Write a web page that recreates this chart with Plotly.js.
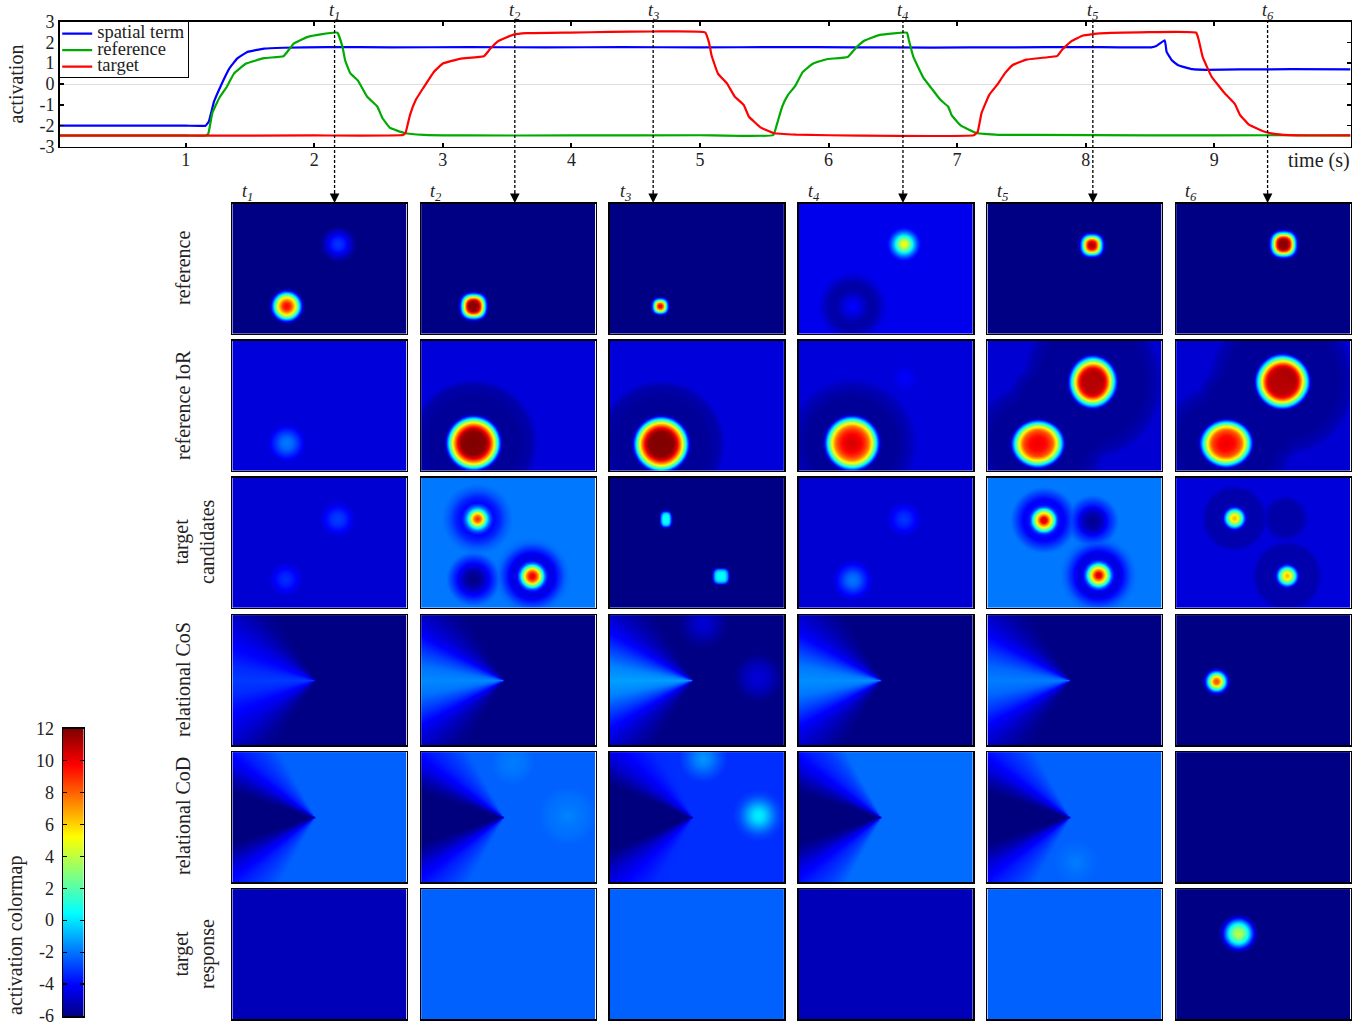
<!DOCTYPE html>
<html><head><meta charset="utf-8">
<script src="https://cdn.plot.ly/plotly-3.0.1.min.js"></script>
<style>html,body{margin:0;padding:0;background:#fff}#g{width:1366px;height:1022px}</style>
</head><body><div id="g"></div>
<script>
// ---------- time courses ----------
const spatialT=[0.02,0.5,1.0,1.155,1.18,1.22,1.27,1.34,1.40,1.48,1.61,1.76,2.1,2.6,3.2,3.8,4.4,5.0,5.6,6.2,6.8,7.4,8.0,8.51,8.55,8.615,8.63,8.67,8.72,8.83,8.94,9.2,9.6,10.06];
const spatialV=[-2.0,-2.0,-2.0,-2.0,-1.8,-0.85,-0.13,0.75,1.22,1.54,1.70,1.74,1.77,1.76,1.77,1.76,1.77,1.76,1.77,1.76,1.75,1.76,1.77,1.76,1.82,2.1,1.54,1.14,0.9,0.71,0.68,0.70,0.71,0.70];
const referenceT=[0.02,1.0,1.155,1.175,1.207,1.26,1.32,1.375,1.47,1.61,1.76,1.79,1.84,1.945,2.05,2.18,2.22,2.24,2.28,2.34,2.41,2.49,2.53,2.59,2.70,2.85,3.2,4.0,5.0,5.57,5.6,5.64,5.685,5.74,5.80,5.88,5.985,6.15,6.22,6.285,6.40,6.61,6.625,6.66,6.74,6.80,6.87,6.93,6.96,7.03,7.15,7.33,7.6,8.5,9.5,10.06];
const referenceV=[-2.47,-2.47,-2.47,-2.4,-1.4,-0.68,-0.13,0.5,0.98,1.24,1.33,1.54,1.94,2.25,2.38,2.46,1.78,1.14,0.52,0.16,-0.6,-1.08,-1.63,-2.11,-2.35,-2.44,-2.47,-2.47,-2.46,-2.45,-1.9,-1.08,-0.52,-0.1,0.58,0.98,1.19,1.3,1.78,2.1,2.36,2.46,2.1,1.3,0.28,-0.2,-0.76,-1.08,-1.52,-2.0,-2.35,-2.44,-2.44,-2.47,-2.46,-2.47];
const targetT=[0.02,1.0,2.0,2.69,2.71,2.745,2.79,2.85,2.93,3.0,3.14,3.32,3.37,3.43,3.55,3.65,3.99,4.30,4.64,5.04,5.07,5.09,5.14,5.21,5.27,5.34,5.38,5.47,5.57,5.75,6.25,7.13,7.16,7.19,7.25,7.32,7.37,7.43,7.54,7.78,7.82,7.89,7.98,8.11,8.86,8.88,8.91,8.98,9.08,9.16,9.2,9.27,9.38,9.48,9.64,10.06];
const targetV=[-2.48,-2.48,-2.47,-2.45,-2.35,-1.48,-0.76,-0.17,0.58,0.98,1.22,1.33,1.7,2.06,2.37,2.44,2.47,2.5,2.52,2.48,2.0,1.38,0.5,0.03,-0.6,-1.0,-1.56,-2.08,-2.35,-2.43,-2.48,-2.46,-2.3,-1.4,-0.52,0.03,0.5,0.9,1.17,1.35,1.67,2.06,2.33,2.43,2.46,2.1,1.3,0.35,-0.43,-0.95,-1.48,-1.95,-2.27,-2.41,-2.47,-2.47];
const seriesNames=['spatial term','reference','target'];
const eventTimes=[2.158,3.56,4.636,6.579,8.056,9.415];
const eventLabels=['t1','t2','t3','t4','t5','t6'];
const xTicks=[1,2,3,4,5,6,7,8,9];
const yTicks=[-3,-2,-1,0,1,2,3];
const yTickText=['-3','-2','-1','0','1','2','3'];
const scaleValues=[-6,-5,-4,-3,-2,-1,0,1,2,3,4,5,6,7,8,9,10,11,12];
const scaleTicks=[-6,-4,-2,0,2,4,6,8,10,12];
const scaleTickText=['-6','-4','-2','0','2','4','6','8','10','12'];
const rowNames=['reference','reference IoR','target<br>candidates','relational CoS','relational CoD','target<br>response'];

// ---------- activation fields ----------
// blob: [centre x, centre y, [radius, activation, ...], x stretch, y stretch, squareness]
// fan:  [angle from the left axis, activation, ...] around the shared apex
const fanApex=[83,66];
const referenceFields=[
 {base:-5.9,blobs:[[55,103,[0,10,4,9,6.5,7,9,5,11,2.5,12.7,0,15,-3.5,17.5,-5.9]],[106.5,41,[0,-3,6,-3.5,12,-4.8,18,-5.9]]]},
 {base:-5.9,blobs:[[53,103,[0,12,5,11.5,7,9,9,5,10.5,2,12,-1,13.5,-4,15.5,-5.9],1,1,2.5]]},
 {base:-5.9,blobs:[[51,103,[0,11,2.5,9,4.5,5,6,1.5,7.5,-2.5,9.5,-5.9],1,1,2.5]]},
 {base:-4.3,blobs:[[106,41,[0,5.8,3,4.5,6,2.5,9,0,12,-2,15,-3.6,18,-4.3]],[54.5,103.3,[0,-3.8,10,-4.7,17,-5.4,24,-5.3,30,-4.7,35,-4.3]]]},
 {base:-5.9,blobs:[[105,42,[0,11.5,3.5,10.5,6,7,8,3,10,-1,12,-4.5,14,-5.9],1,1,2.5]]},
 {base:-5.9,blobs:[[108,41,[0,12,5,11.5,7,9,9,5,10.5,2,12,-1,13.5,-4,15.5,-5.9],1,1,2.5]]}
];
const iorFields=[
 {base:-4.6,blobs:[[55,103,[0,-1.8,6,-2.2,12,-3.3,19,-4.6]]]},
 {base:-4.6,blobs:[[53,103,[0,12,12,11.8,15,10.5,18,8,20.5,5.5,22.5,3,24.5,0.5,26.5,-3,29,-5.6,45,-5.6,58,-5.3,64,-4.6]]]},
 {base:-4.6,blobs:[[52,104,[0,12,12.5,11.8,15.5,10.5,18.5,8,21,5.5,23,3,25,0.5,27,-3,29.5,-5.6,45,-5.6,58,-5.3,64,-4.6]]]},
 {base:-4.6,blobs:[[54,103,[0,10.5,8,10,13,9,17,7.5,20,5,22,3,24.5,0,26.5,-3,29,-5.6,45,-5.6,58,-5.1,65,-4.6]],[107,38,[0,-4,8,-4.3,14,-4.6]]]},
 {base:-4.7,blobs:[[105.7,42,[0,12,11,11.8,14,10.5,16.5,8,19,5,21,2.5,23,0,25,-3,27.5,-5.6,55,-5.6,68,-5.2,74,-4.7],0.95,1.03],[51.3,103.3,[0,11,8,10.5,14,9,17,6.5,19,4.5,21,2,23,-0.5,25,-3.5,27,-5.6,45,-5.6,58,-5.2,64,-4.7],1.05,0.95],[78,72,[0,-5.6,45,-5.6,55,-5.2,60,-4.7]]]},
 {base:-4.7,blobs:[[106.7,41.7,[0,12,13,11.8,16,10.5,18.5,8,21,5,23,2.5,25,0,27,-3,29,-5.6,55,-5.6,68,-5.2,74,-4.7]],[51,103,[0,11,8,10.5,14,9,17,6.5,19,4.5,21,2,23,-0.5,25,-3.5,27,-5.6,45,-5.6,58,-5.2,64,-4.7],1.05,0.95],[78,72,[0,-5.6,45,-5.6,55,-5.2,60,-4.7]]]}
];
const candidateFields=[
 {base:-4.7,blobs:[[106,42,[0,-2.9,6,-3.2,12,-4,18,-4.7]],[54,102,[0,-3.2,6,-3.5,12,-4.2,17,-4.7]]]},
 {base:-1.9,blobs:[[57,41.7,[0,9.5,3,8,6,5,8,2,10,-0.3,12.5,-2.5,16,-4,22,-3.4,28,-2.5,35,-1.9]],[111.7,99,[0,10.5,3,9.5,5,8,7,6,9,3,11,0.5,13,-2.5,16,-4.3,21,-4.5,27,-3.3,33,-2.2,38,-1.9]],[53,102,[0,-5.95,5,-5.7,10,-5.1,18,-3.6,27,-1.9]]]},
 {base:-5.9,blobs:[[56.7,42,[0,0.8,4,0.6,6,-0.5,7.5,-3,9,-5.9],0.7,1,3],[111.7,99,[0,0.6,4,0.4,6,-0.7,7.5,-3,9,-5.9],1,1,3]]},
 {base:-4.7,blobs:[[106,42,[0,-3,6,-3.4,12,-4.1,18,-4.7]],[54.7,103,[0,-1.9,6,-2.3,12,-3.4,20,-4.7]]]},
 {base:-1.9,blobs:[[57,43,[0,11,3,10,4.5,8,7.5,5,9.5,2.5,11.5,0,13,-2.5,15,-3.8,20,-4.2,26,-3.1,33,-1.9]],[111.7,98,[0,11,3,10,4.5,8,7.5,5,9.5,2.5,11.5,0,13,-2.5,16,-4.2,21,-4.6,27,-3.4,33,-2.3,38,-1.9]],[105.7,44,[0,-5.8,5,-5.5,10,-5,16,-3.6,26,-1.9]]]},
 {base:-4.6,blobs:[[59,41,[0,7,3,5.5,6,3,8,0.5,10,-2.5,12,-5,15,-5.3,28,-5.3,33,-4.6]],[111.7,98.7,[0,7,3,5.5,6,3,8,0.5,10,-2.5,12,-5,15,-5.3,30,-5.3,35,-4.6]],[110,41,[0,-5.4,17,-5.3,23,-4.6]]]}
];
const cosFields=[
 {base:-5.9,fan:[0,-3,10,-3.3,20,-3.9,30,-4.4,40,-5,50,-5.6,60,-5.9]},
 {base:-5.9,fan:[0,-1.6,10,-2,20,-3,30,-4.2,40,-5,50,-5.6,60,-5.9]},
 {base:-5.9,fan:[0,-1.2,10,-1.7,20,-2.8,30,-4,40,-4.9,50,-5.5,60,-5.9],blobs:[[94,9,[0,-4.6,8,-4.9,16,-5.4,25,-5.9]],[149,63,[0,-4.6,8,-4.8,16,-5.3,24,-5.9]]]},
 {base:-5.9,fan:[0,-1.5,10,-1.9,20,-2.9,30,-4.1,40,-4.9,50,-5.5,60,-5.9]},
 {base:-5.9,fan:[0,-1.8,10,-2.2,20,-3.1,30,-4.2,40,-5,50,-5.6,60,-5.9]},
 {base:-5.9,blobs:[[41,67,[0,9,3,7.5,5,5,7,2.5,9,-0.5,11,-3.5,14,-5.9]]]}
];
const codFields=[
 {base:-2.3,fan:[0,-6,17,-6,24,-5.4,32,-4.4,42,-3.5,52,-2.9,62,-2.3]},
 {base:-2.3,fan:[0,-6,17,-6,24,-5.4,32,-4.4,42,-3.5,52,-2.9,62,-2.3],blobs:[[147,64,[0,-1.7,12,-1.95,22,-2.1,29,-2.3]],[92,11,[0,-1.8,12,-2,22,-2.3]]]},
 {base:-3.2,fan:[0,-6,22,-6,28,-5.4,36,-4.6,46,-3.9,60,-3.3,70,-3.2],blobs:[[149.3,64,[0,0.3,5,-0.1,10,-1,15,-2,20,-2.8,26,-3.2]],[94,7,[0,-1.3,8,-1.8,15,-2.5,24,-3.2]]]},
 {base:-2.1,fan:[0,-6,17,-6,24,-5.4,32,-4.4,42,-3.5,52,-2.9,62,-2.1]},
 {base:-2.3,fan:[0,-6,17,-6,24,-5.4,32,-4.4,42,-3.5,52,-2.9,62,-2.3],blobs:[[89,111,[0,-1.8,12,-2.1,22,-2.3]]]},
 {base:-5.9}
];
const responseFields=[
 {base:-5.1},
 {base:-2.3},
 {base:-2.3},
 {base:-5.1},
 {base:-2.3},
 {base:-5.9,blobs:[[63,45,[0,4.2,4,3.4,8,1.5,11,-0.5,14,-3,17,-5,20,-5.9]]]}
];
const fieldRows=[referenceFields,iorFields,candidateFields,cosFields,codFields,responseFields];

// ---------- colours ----------
const jet=[[0,'#00007f'],[0.11,'#0000ff'],[0.36,'#00ffff'],[0.625,'#ffff00'],[0.875,'#ff0000'],[1,'#7f0000']];
const lineColours=['#0000ff','#00aa00','#ff0000'];
const FONT='"Liberation Serif",serif';
const W=1366,H=1022;
const fx=x=>x/W, fy=y=>1-y/H;

// ---------- sampling of the read profiles onto the field grid ----------
function lookup(p,r){
  if(r>=p[p.length-2]) return null;
  for(let i=0;i<p.length-2;i+=2){
    if(r<=p[i+2]){const a=(r-p[i])/(p[i+2]-p[i]);return p[i+1]+a*(p[i+3]-p[i+1]);}
  }
  return null;
}
const gridX=[],gridY=[];
for(let i=0;i<=88;i++)gridX.push(i*2);
for(let j=0;j<=66;j++)gridY.push(j*2);
function sampleField(f){
  return gridY.map(y=>gridX.map(x=>{
    let up=0,down=0;
    const note=d=>{if(d>up)up=d;if(d<down)down=d;};
    (f.blobs||[]).forEach(b=>{
      const sx=b[3]||1,sy=b[4]||1,q=b[5]||2;
      const r=Math.pow(Math.pow(Math.abs(x-b[0])/sx,q)+Math.pow(Math.abs(y-b[1])/sy,q),1/q);
      const v=lookup(b[2],r);
      if(v!==null)note(v-f.base);
    });
    if(f.fan){
      const dx=fanApex[0]-x,dy=Math.abs(y-fanApex[1]);
      const ang=dx>0?Math.atan2(dy,dx)*180/Math.PI:90;
      const v=lookup(f.fan,ang);
      if(v!==null)note(v-f.base);
    }
    return f.base+up+down;
  }));
}

// ---------- layout ----------
const colLeft=[231.5,420.3,609,797.8,986.6,1175.3], colW=176;
const rowTop=[203,340,477,614.3,751.3,888.3], rowH=131.5;
const rowLabelX=[183,183,194,183,183,194];
const rowLabelY=[268,405,542,680,816,954];
const legendText=s=>'<span style="font-size:18.5px">'+s+'</span>';
const lineStyle=c=>({color:c,width:2.2,shape:'spline',smoothing:0.3});

const traces=[
 {type:'scatter',mode:'lines',name:legendText(seriesNames[0]),x:spatialT,y:spatialV,line:lineStyle(lineColours[0])},
 {type:'scatter',mode:'lines',name:legendText(seriesNames[1]),x:referenceT,y:referenceV,line:lineStyle(lineColours[1])},
 {type:'scatter',mode:'lines',name:legendText(seriesNames[2]),x:targetT,y:targetV,line:lineStyle(lineColours[2])},
 {type:'heatmap',xaxis:'x2',yaxis:'y2',x:[0,1],y:scaleValues,z:scaleValues.map(v=>[v,v]),zmin:-6,zmax:12,zauto:false,
  colorscale:jet,showscale:false,zsmooth:'best',hoverinfo:'skip'}
];
const axFont={family:FONT,size:18,color:'#222'};
const layout={
 width:W,height:H,autosize:false,margin:{l:0,r:0,t:0,b:0},paper_bgcolor:'#fff',plot_bgcolor:'#fff',
 font:{family:FONT,size:17,color:'#222'},
 showlegend:true,
 legend:{x:fx(59),y:fy(21),xanchor:'left',yanchor:'top',bgcolor:'#fff',bordercolor:'#000',borderwidth:1.2,
  font:{family:FONT,size:12,color:'#222'},itemwidth:30,tracegroupgap:0,traceorder:'normal'},
 xaxis:{domain:[fx(59.7),fx(1350.5)],range:[0.02,10.06],tickmode:'array',tickvals:xTicks,ticktext:xTicks.map(String),
  ticks:'inside',ticklen:4,tickwidth:2,tickcolor:'#000',showline:true,linecolor:'#000',linewidth:1.5,mirror:'ticks',
  showgrid:false,zeroline:false,tickfont:axFont,anchor:'y',ticklabelstandoff:-4},
 yaxis:{domain:[fy(146.5),fy(21.5)],range:[-3,3],tickmode:'array',tickvals:yTicks,ticktext:yTickText,
  ticks:'inside',ticklen:4,tickwidth:1.5,tickcolor:'#000',showline:true,linecolor:'#000',linewidth:1.5,mirror:'ticks',
  showgrid:false,zeroline:true,zerolinecolor:'#dddddd',zerolinewidth:1,tickfont:axFont,anchor:'x',
  title:{text:'activation',font:{family:FONT,size:20,color:'#222'},standoff:10}},
 xaxis2:{domain:[fx(63),fx(83.5)],range:[0,1],showticklabels:false,ticks:'',showline:true,linecolor:'#000',linewidth:1.5,mirror:true,
  showgrid:false,zeroline:false,anchor:'y2'},
 yaxis2:{domain:[fy(1016),fy(728.5)],range:[-6,12],tickmode:'array',tickvals:scaleTicks,ticktext:scaleTickText,
  ticks:'inside',ticklen:4,tickwidth:1.2,tickcolor:'#000',showline:true,linecolor:'#000',linewidth:1.5,mirror:'ticks',
  showgrid:false,zeroline:false,tickfont:axFont,anchor:'x2',ticklabeloverflow:'allow',ticklabelstandoff:4},
 annotations:[],shapes:[]
};
let n=3;
fieldRows.forEach((row,r)=>{
  row.forEach((f,c)=>{
    const xa='xaxis'+n,ya='yaxis'+n;
    layout[xa]={domain:[fx(colLeft[c]+0.8),fx(colLeft[c]+colW-0.8)],range:[0.8,175.2],showticklabels:false,ticks:'',showline:true,
      linecolor:'#000',linewidth:1.5,mirror:true,showgrid:false,zeroline:false,anchor:'y'+n};
    layout[ya]={domain:[fy(rowTop[r]+rowH-0.8),fy(rowTop[r]+0.8)],range:[130.7,0.8],showticklabels:false,ticks:'',showline:true,
      linecolor:'#000',linewidth:1.5,mirror:true,showgrid:false,zeroline:false,anchor:'x'+n};
    traces.push({type:'heatmap',xaxis:'x'+n,yaxis:'y'+n,x:gridX,y:gridY,z:sampleField(f),zmin:-6,zmax:12,zauto:false,
      colorscale:jet,showscale:false,zsmooth:'best',hoverinfo:'skip'});
    n++;
  });
});
const tLabel=s=>'<i>t<sub>'+s.slice(1)+'</sub></i>';
const note=(o)=>Object.assign({showarrow:false,xanchor:'center',yanchor:'middle',font:{family:FONT,size:20,color:'#222'}},o);
eventTimes.forEach((t,i)=>{
  layout.shapes.push({type:'line',xref:'x',yref:'paper',x0:t,x1:t,y0:fy(20),y1:fy(197),line:{color:'#000',width:1.3,dash:'3px,2px'}});
  layout.annotations.push({xref:'x',yref:'paper',x:t,y:fy(203),ax:0,ay:-12,text:'',showarrow:true,arrowhead:2,arrowsize:1.6,arrowwidth:1.2,arrowcolor:'#000',standoff:0});
  layout.annotations.push(note({xref:'x',yref:'paper',x:t,y:fy(11.5),text:tLabel(eventLabels[i]),font:{family:FONT,size:18,color:'#222'}}));
  layout.annotations.push(note({xref:'paper',yref:'paper',x:fx(colLeft[i]+16),y:fy(192),text:tLabel(eventLabels[i]),font:{family:FONT,size:18,color:'#222'}}));
});
rowNames.forEach((s,r)=>{
  layout.annotations.push(note({xref:'paper',yref:'paper',x:fx(rowLabelX[r]),y:fy(rowLabelY[r]),text:s,textangle:-90}));
});
layout.annotations.push(note({xref:'paper',yref:'paper',x:fx(1352),y:fy(160),xanchor:'right',text:'time (s)'}));
layout.annotations.push(note({xref:'paper',yref:'paper',x:fx(15),y:fy(936),text:'activation colormap',textangle:-90}));
Plotly.newPlot('g',traces,layout,{displayModeBar:false,staticPlot:true}).then(()=>{
  // tighten the native legend's rows and box to the reference's spacing (Plotly's minimum row height is 19px)
  const lg=document.querySelector('.legend');
  if(!lg)return;
  lg.querySelectorAll('.traces').forEach((el,i)=>{
    const m=/translate\(([-\d.]+),\s*([-\d.]+)\)/.exec(el.getAttribute('transform')||'');
    if(m)el.setAttribute('transform','translate('+(parseFloat(m[1])-3)+','+(parseFloat(m[2])-3-i*2.5)+')');
  });
  const bg=lg.querySelector('rect.bg');
  if(bg){bg.setAttribute('height',56);bg.setAttribute('width',129);}
});
</script></body></html>
